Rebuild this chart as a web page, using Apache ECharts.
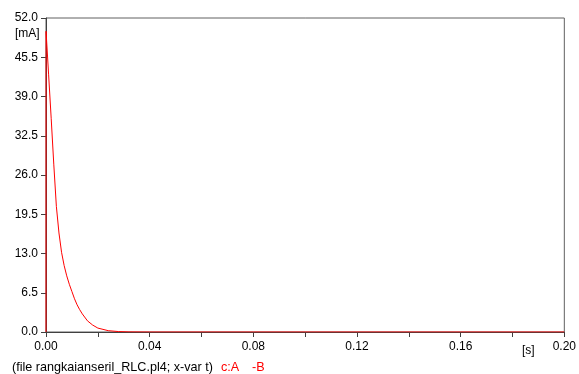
<!DOCTYPE html>
<html>
<head>
<meta charset="utf-8">
<script src="https://cdn.jsdelivr.net/npm/echarts@6/dist/echarts.min.js"></script>
<style>
  html, body { margin: 0; padding: 0; background: #fff; }
  #chart { width: 579px; height: 374px; }
</style>
</head>
<body>
<div id="chart"></div>
<script>
// time [s] and current [mA]
const times = [0, 0.00002, 0.001, 0.002, 0.003, 0.004, 0.005, 0.006, 0.007, 0.008, 0.009, 0.010,
  0.011, 0.012, 0.013, 0.014, 0.016, 0.018, 0.020, 0.024, 0.028, 0.032, 0.040, 0.080, 0.120, 0.160, 0.200]
const current = [0, 49.8, 42.7, 35.4, 27.8, 20.8, 16.4, 13.2, 11.0, 9.3, 7.9, 6.7,
  5.5, 4.5, 3.7, 3.0, 1.85, 1.15, 0.65, 0.22, 0.07, 0.02, 0, 0, 0, 0, 0]
const yTicks = [0, 6.5, 13, 19.5, 26, 32.5, 39, 45.5, 52]
const xTicks = [0, 0.04, 0.08, 0.12, 0.16, 0.2]

const seriesData = times.map((t, i) => [t, current[i]])
const font = 'Liberation Sans, Arial, sans-serif'

let myChart = echarts.init(document.getElementById('chart'))
let option = {
  backgroundColor: '#FFFFFF',
  animation: false,
  grid: {
    left: 46,
    right: 12,
    top: 18,
    bottom: 42,
    show: true,
    borderColor: '#606060',
    borderWidth: 1
  },
  xAxis: {
    type: 'value',
    min: xTicks[0],
    max: xTicks[xTicks.length - 1],
    interval: 0.04,
    axisLine: { onZero: false, lineStyle: { color: '#404040', width: 1 } },
    axisTick: { length: 5, lineStyle: { color: '#404040' } },
    minorTick: { show: true, splitNumber: 2, length: 5, lineStyle: { color: '#404040' } },
    splitLine: { show: false },
    axisLabel: {
      color: '#000',
      fontFamily: font,
      fontSize: 12,
      margin: 9,
      formatter: val => val.toFixed(2)
    }
  },
  yAxis: {
    type: 'value',
    min: yTicks[0],
    max: yTicks[yTicks.length - 1],
    interval: 6.5,
    axisLine: { show: true, lineStyle: { color: '#404040', width: 1 } },
    axisTick: { show: true, length: 5, lineStyle: { color: '#404040' } },
    splitLine: { show: false },
    axisLabel: {
      color: '#000',
      fontFamily: font,
      fontSize: 12,
      margin: 8,
      formatter: val => val.toFixed(1)
    }
  },
  graphic: [
    { type: 'text', left: 15, top: 28, style: { text: '[mA]', fill: '#000', font: '12px ' + font } },
    { type: 'text', left: 522, top: 345, style: { text: '[s]', fill: '#000', font: '12px ' + font } },
    { type: 'text', left: 12, top: 361, style: { text: '(file rangkaianseril_RLC.pl4; x-var t)', fill: '#000', font: '12.6px ' + font } },
    { type: 'text', left: 221, top: 361, style: { text: 'c:A', fill: '#ff0000', font: '12.6px ' + font } },
    { type: 'text', left: 252, top: 361, style: { text: '-B', fill: '#ff0000', font: '12.6px ' + font } }
  ],
  series: [
    {
      name: 'c:A -B',
      type: 'line',
      data: seriesData,
      showSymbol: false,
      symbol: 'none',
      lineStyle: { color: '#ff0000', width: 1 },
      itemStyle: { color: '#ff0000' }
    }
  ]
}
myChart.setOption(option)
</script>
</body>
</html>
